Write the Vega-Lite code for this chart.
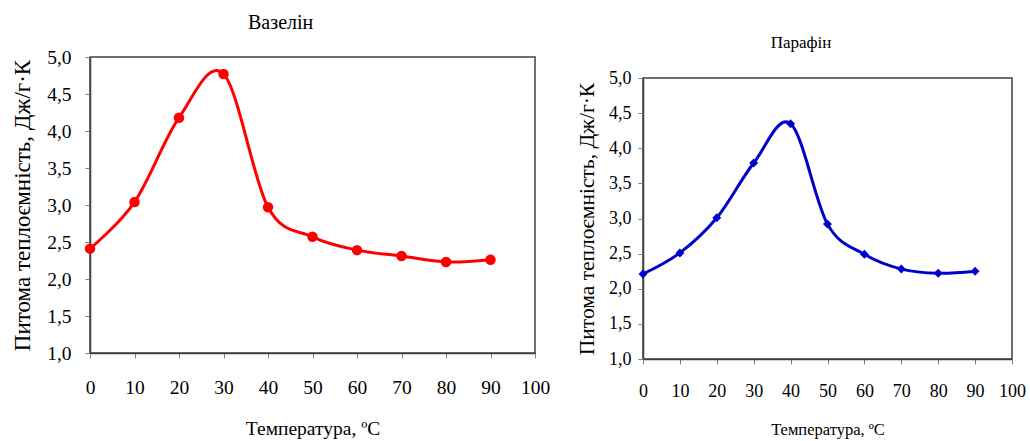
{
  "$schema": "https://vega.github.io/schema/vega-lite/v6.json",
  "padding": {"left": 10, "top": 12, "right": 0, "bottom": 0},
  "background": "white",
  "config": {
    "font": "Liberation Serif",
    "view": {"stroke": "#404040", "strokeWidth": 1.5},
    "axis": {
      "grid": false,
      "domainColor": "#404040",
      "domainWidth": 1.5,
      "tickColor": "#808080",
      "tickSize": 5,
      "labelColor": "#000000",
      "titleColor": "#000000",
      "labelFont": "Liberation Serif",
      "titleFont": "Liberation Serif",
      "titleFontWeight": "normal",
      "labelFlush": false,
      "labelOverlap": false
    },
    "title": {"font": "Liberation Serif", "fontWeight": "normal", "color": "#000000", "frame": "bounds"}
  },
  "spacing": 24,
  "hconcat": [
    {
      "width": 445,
      "height": 296,
      "title": {"text": "Вазелін", "fontSize": 20, "offset": 14},
      "data": {"values": [
        {"t": 0, "c": 2.41}, {"t": 10, "c": 3.04}, {"t": 20, "c": 4.18}, {"t": 30, "c": 4.77},
        {"t": 40, "c": 2.97}, {"t": 50, "c": 2.57}, {"t": 60, "c": 2.39}, {"t": 70, "c": 2.31},
        {"t": 80, "c": 2.23}, {"t": 90, "c": 2.26}
      ]},
      "encoding": {
        "x": {"field": "t", "type": "quantitative", "scale": {"domain": [0, 100], "nice": false},
              "axis": {"values": [0,10,20,30,40,50,60,70,80,90,100], "title": "Температура, ºС",
                       "labelFontSize": 19.5, "titleFontSize": 19.5, "labelPadding": 20, "titlePadding": 23}},
        "y": {"field": "c", "type": "quantitative", "scale": {"domain": [1, 5], "nice": false, "zero": false},
              "axis": {"values": [1,1.5,2,2.5,3,3.5,4,4.5,5], "title": "Питома теплоємність, Дж/г·К",
                       "labelExpr": "replace(format(datum.value, '.1f'), '.', ',')",
                       "labelFontSize": 19.5, "titleFontSize": 23, "labelPadding": 14, "titlePadding": 12}}
      },
      "layer": [
        {"mark": {"type": "line", "interpolate": "cardinal", "color": "#FF0000", "strokeWidth": 3}},
        {"mark": {"type": "point", "shape": "circle", "filled": true, "opacity": 1, "size": 110, "color": "#FF0000"}}
      ]
    },
    {
      "spacing": -25,
      "vconcat": [
        {
          "width": 369,
          "height": 1,
          "view": {"stroke": null},
          "data": {"values": []},
          "mark": "text"
        },
        {
          "width": 369,
          "height": 281,
          "title": {"text": "Парафін", "fontSize": 17, "offset": 17},
          "data": {"values": [
            {"t": 0, "c": 2.21}, {"t": 10, "c": 2.51}, {"t": 20, "c": 3.01}, {"t": 30, "c": 3.79},
            {"t": 40, "c": 4.35}, {"t": 50, "c": 2.92}, {"t": 60, "c": 2.49}, {"t": 70, "c": 2.28},
            {"t": 80, "c": 2.22}, {"t": 90, "c": 2.25}
          ]},
          "encoding": {
            "x": {"field": "t", "type": "quantitative", "scale": {"domain": [0, 100], "nice": false},
                  "axis": {"values": [0,10,20,30,40,50,60,70,80,90,100], "title": "Температура, ºС",
                           "labelFontSize": 18, "titleFontSize": 16.5, "labelPadding": 18, "titlePadding": 21}},
            "y": {"field": "c", "type": "quantitative", "scale": {"domain": [1, 5], "nice": false, "zero": false},
                  "axis": {"values": [1,1.5,2,2.5,3,3.5,4,4.5,5], "title": "Питома теплоємність, Дж/г·К",
                           "labelExpr": "replace(format(datum.value, '.1f'), '.', ',')",
                           "labelFontSize": 18, "titleFontSize": 21.5, "labelPadding": 7, "titlePadding": 10}}
          },
          "layer": [
            {"mark": {"type": "line", "interpolate": "cardinal", "color": "#0000CC", "strokeWidth": 3}},
            {"mark": {"type": "point", "shape": "diamond", "filled": true, "opacity": 1, "size": 80, "color": "#0000CC"}}
          ]
        }
      ]
    }
  ]
}
